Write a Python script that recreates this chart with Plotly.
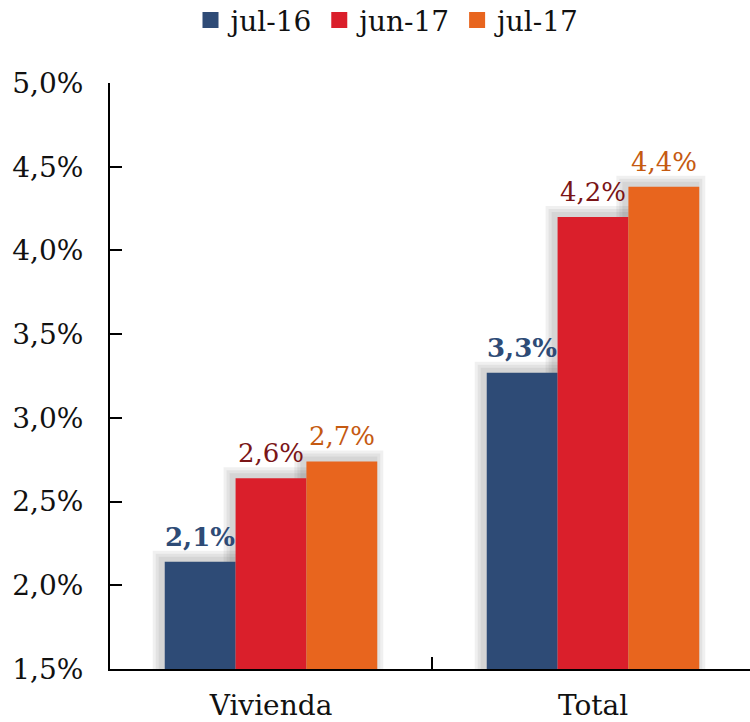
import plotly.graph_objects as go

categories = ["Vivienda", "Total"]
series_names = ["jul-16", "jun-17", "jul-17"]
jul16 = [2.14, 3.27]
jun17 = [2.64, 4.20]
jul17 = [2.74, 4.38]
series_values = [jul16, jun17, jul17]

bar_colors = ["#2E4B76", "#DA1F2B", "#E8651E"]
label_colors = ["#2E4B76", "#7A1517", "#C55A11"]
label_bold = [True, False, False]

FONT = "DejaVu Serif"
W, H = 750, 722
L, R, T, B = 110, 0, 83, 53
plot_w = W - L - R
plot_h = H - T - B
cat_px = 322.0
y_min, y_max = 1.5, 5.0
px_x = 1.0 / cat_px
px_y = (y_max - y_min) / plot_h

bar_w = 0.22
offsets = [-0.33, -0.11, 0.11]

fig = go.Figure()

# soft shadows behind the bars
for k in (3, 2, 1):
    e = k * 3.0
    for vals, off in zip(series_values, offsets):
        fig.add_trace(go.Bar(
            x=categories,
            y=[v + (e + 2) * px_y for v in vals],
            offset=off - (e + 3) * px_x,
            width=bar_w + 2 * e * px_x,
            marker=dict(color="rgba(90,90,90,0.09)", line=dict(width=0)),
            showlegend=False, hoverinfo="skip",
        ))

annotations = []
for name, vals, off, col, lcol, bold in zip(series_names, series_values, offsets,
                                             bar_colors, label_colors, label_bold):
    fig.add_trace(go.Bar(
        x=categories, y=vals, name=name,
        offset=off, width=bar_w,
        marker=dict(color=col, line=dict(width=0)),
        showlegend=False,
    ))
    for i, v in enumerate(vals):
        txt = f"{v:.1f}%".replace(".", ",")
        if bold:
            txt = f"<b>{txt}</b>"
        annotations.append(dict(
            x=i + off + bar_w / 2, y=v, xref="x", yref="y",
            text=txt, showarrow=False, yanchor="bottom", xanchor="center",
            yshift=8,
            font=dict(family=FONT, size=26, color=lcol),
        ))
    # legend entry with a square marker
    fig.add_trace(go.Scatter(
        x=[None], y=[None], mode="markers", name=name,
        marker=dict(symbol="square", size=17, color=col),
        showlegend=True,
    ))

fig.update_layout(
    width=W, height=H,
    margin=dict(l=L, r=R, t=T, b=B, autoexpand=False),
    paper_bgcolor="white", plot_bgcolor="white",
    barmode="overlay",
    separators=",.",
    font=dict(family=FONT, size=28, color="#111111"),
    annotations=annotations,
    legend=dict(
        orientation="h", xref="container", yref="container",
        x=0.518, xanchor="center", y=0.972, yanchor="middle",
        font=dict(family=FONT, size=28, color="#111111"),
        itemwidth=30, tracegroupgap=0,
    ),
    xaxis=dict(
        type="category", range=[-0.5, -0.5 + plot_w / cat_px],
        showline=True, linecolor="black", linewidth=2,
        ticks="inside", tickson="boundaries", ticklen=12, tickwidth=2, tickcolor="black",
        tickfont=dict(family=FONT, size=28, color="#111111"),
        ticklabelstandoff=10, showgrid=False, zeroline=False, automargin=False,
    ),
    yaxis=dict(
        range=[y_min, y_max], dtick=0.5, tick0=1.5,
        tickformat=".1f", ticksuffix="%",
        showline=True, linecolor="black", linewidth=2,
        ticks="inside", ticklen=12, tickwidth=2, tickcolor="black",
        tickfont=dict(family=FONT, size=28, color="#111111"),
        ticklabelstandoff=19, showgrid=False, zeroline=False, automargin=False,
    ),
)

fig.write_html(
    "out.html",
    config={"displayModeBar": False},
    post_script="document.body.style.margin='0';document.body.style.padding='0';",
)
